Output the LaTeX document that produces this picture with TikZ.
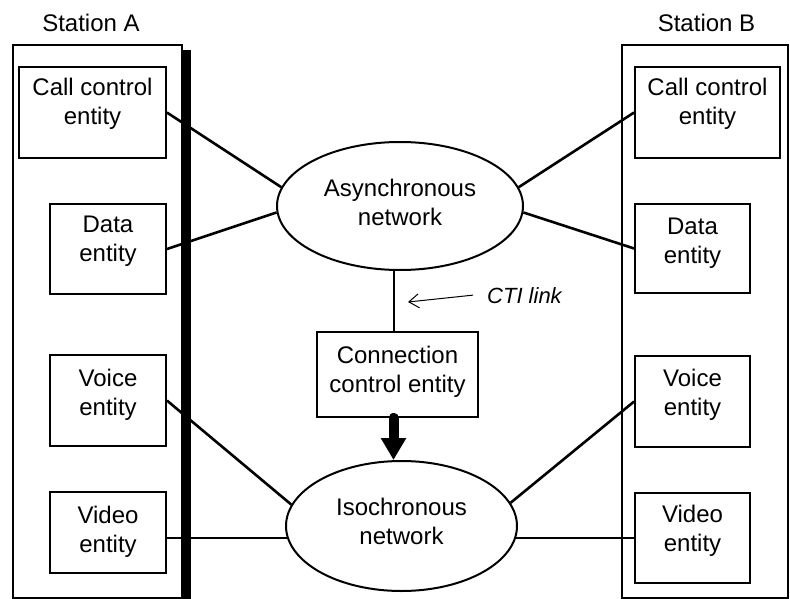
\documentclass[tikz,border=0pt]{standalone}
\usepackage{fontspec}
\setmainfont{Liberation Sans}
\usetikzlibrary{shapes.geometric,arrows.meta}
\begin{document}
\begin{tikzpicture}[x=1pt,y=-1pt,
  every node/.style={font=\fontsize{24}{29}\selectfont, align=center},
  frame/.style={draw, line width=2pt, anchor=north west, inner sep=0pt},
  ebox/.style={draw, line width=1.8pt, inner sep=0pt},
  netw/.style={draw, ellipse, line width=2pt, inner sep=0pt},
  wire/.style={line width=2.6pt},
  txt/.style={inner sep=0pt}
]
\useasboundingbox (0,0) rectangle (790,599);

% station frames and titles
\node[frame, minimum width=169pt, minimum height=553pt] (sa) at (12,44) {};
\node[frame, minimum width=166pt, minimum height=553pt] (sb) at (621,44) {};
\fill (182,50) rectangle (191,599);
\node[txt] (ta) at (91,23) {Station A};
\node[txt] (tb) at (706.5,23) {Station B};

% entities of station A
\node[ebox, minimum width=147pt, minimum height=91pt] (ac) at (92.5,112.5) {};
\node[txt] at ([yshift=9pt]ac.center) {Call control\\entity};
\node[ebox, minimum width=116pt, minimum height=90pt] (ad) at (108,249) {};
\node[txt] at ([yshift=8pt]ad.center) {Data\\entity};
\node[ebox, minimum width=116pt, minimum height=91pt] (av) at (108,400.5) {};
\node[txt] at ([yshift=6pt]av.center) {Voice\\entity};
\node[ebox, minimum width=116pt, minimum height=81pt] (aw) at (108,532.5) {};
\node[txt] at ([yshift=1pt]aw.center) {Video\\entity};

% entities of station B
\node[ebox, minimum width=145pt, minimum height=91pt] (bc) at (707.5,112.5) {};
\node[txt] at ([yshift=9pt]bc.center) {Call control\\entity};
\node[ebox, minimum width=115pt, minimum height=89pt] (bd) at (692.5,248.5) {};
\node[txt] at ([yshift=5pt]bd.center) {Data\\entity};
\node[ebox, minimum width=115pt, minimum height=91pt] (bv) at (692.5,401.5) {};
\node[txt] at ([yshift=7pt]bv.center) {Voice\\entity};
\node[ebox, minimum width=115pt, minimum height=90pt] (bw) at (692.5,538) {};
\node[txt] at ([yshift=7pt]bw.center) {Video\\entity};

% networks and connection control
\node[netw, minimum width=246pt, minimum height=128pt] (async) at (400,206) {};
\node[txt] at ([yshift=4pt]async.center) {Asynchronous\\network};
\node[netw, minimum width=231pt, minimum height=130pt] (iso) at (401.5,526) {};
\node[txt] at ([yshift=5pt]iso.center) {Isochronous\\network};
\node[ebox, minimum width=161pt, minimum height=85pt] (cc) at (397.5,374.5) {};
\node[txt] at ([yshift=3pt]cc.center) {Connection\\control entity};

% links to the asynchronous network
\draw[wire] (ac.east) -- (async.171);
\draw[wire] (ad.east) -- (async.183);
\draw[wire] (bc.west) -- (async.9);
\draw[wire] (bd.west) -- (async.357);

% links to the isochronous network
\draw[wire] (av.east) -- (iso.169);
\draw[wire] ([yshift=-5.5pt]aw.east) -- ([yshift=-5.5pt,xshift=2pt]aw.east -| iso.west);
\draw[wire] (bv.west) -- (iso.12);
\draw[wire] (bw.west) -- ([xshift=-2pt]bw.west -| iso.east);

% CTI link
\draw[line width=2pt] ([xshift=-4pt]cc.north) -- ([xshift=-4pt]cc.north |- async.south);
\node[txt, font=\fontsize{22}{26}\selectfont\itshape, anchor=base west] (cti) at (487,303) {CTI link};
\coordinate (ctitip) at (408,302);
\draw[line width=1pt, -{Straight Barb[length=10pt,width=14pt]}] ([xshift=-14pt]cti.west) -- (ctitip);

% control of the isochronous network
\draw[line width=10pt, line cap=round, -{Triangle[length=22pt,width=24pt]}]
  ([xshift=-4pt]cc.south) -- ([xshift=-4pt]cc.south |- iso.north);
\end{tikzpicture}
\end{document}
